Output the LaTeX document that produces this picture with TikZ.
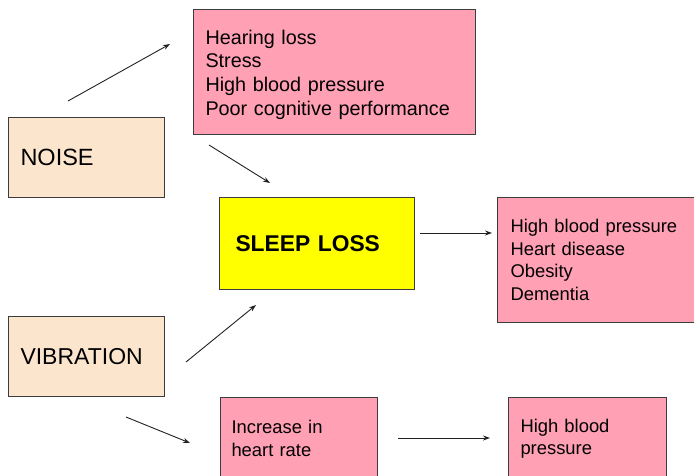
\documentclass[tikz,border=0pt]{standalone}
\usepackage{fontspec}
\setmainfont{Liberation Sans}
\usetikzlibrary{arrows.meta}
\definecolor{pinkc}{HTML}{FFA0B4}
\definecolor{peach}{HTML}{FCE5CD}
\definecolor{yel}{HTML}{FFFF00}
\definecolor{edgec}{HTML}{3C3C3C}
\definecolor{arrc}{HTML}{222222}
\begin{document}
\begin{tikzpicture}[x=1pt,y=-1pt,
  box/.style={draw=edgec,line width=1pt,anchor=north west,align=left,inner xsep=12pt,inner ysep=0pt},
  big/.style={font=\fontsize{23.5}{28}\selectfont},
  list/.style={font=\fontsize{18.4}{22.5}\selectfont},
  conn/.style={draw=arrc,line width=0.9pt,-{Stealth[length=7pt,width=5pt]}}]
\useasboundingbox (0,0) rectangle (694,475);
\clip (0,0) rectangle (694,475);
\fill[white] (0,0) rectangle (694,475);

\node[box,big,fill=peach,minimum width=156,minimum height=80,text width=132] (noise) at (8,117) {NOISE};
\node[box,fill=pinkc,minimum width=282,minimum height=125,text width=258,font=\fontsize{19.8}{23.8}\selectfont] (top) at (193,9) {\rule{0pt}{19.5pt}Hearing loss\\Stress\\High blood pressure\\Poor cognitive performance};
\node[box,fill=yel,inner xsep=16pt,minimum width=195,minimum height=92,text width=163,font=\bfseries\fontsize{22.8}{27}\selectfont] (sleep) at (219,197) {SLEEP LOSS};
\node[box,list,fill=pinkc,inner xsep=13pt,minimum width=203,minimum height=125,text width=177] (effects) at (497,197) {High blood pressure\\Heart disease\\Obesity\\Dementia};
\node[box,fill=peach,minimum width=156,minimum height=80,text width=132,font=\fontsize{23}{28}\selectfont] (vib) at (8,316) {VIBRATION};
\node[box,list,fill=pinkc,inner xsep=11pt,minimum width=157,minimum height=82,text width=135] (hr) at (220,397) {Increase in\\heart rate};
\node[box,list,fill=pinkc,minimum width=158,minimum height=82,text width=134] (hbp) at (508,397) {High blood\\pressure};

\coordinate (a1s) at (68,101);  \coordinate (a1e) at (170,44);
\coordinate (a2s) at (209,145); \coordinate (a2e) at (270,183);
\coordinate (a3s) at (420,233); \coordinate (a3e) at (492,233);
\coordinate (a4s) at (186,362); \coordinate (a4e) at (256,305);
\coordinate (a5s) at (126,417); \coordinate (a5e) at (190,443);
\coordinate (a6s) at (398,438); \coordinate (a6e) at (490,438);

\draw[conn] (a1s) -- (a1e);
\draw[conn] (a2s) -- (a2e);
\draw[conn] (a3s) -- (a3e);
\draw[conn] (a4s) -- (a4e);
\draw[conn] (a5s) -- (a5e);
\draw[conn] (a6s) -- (a6e);
\end{tikzpicture}
\end{document}
